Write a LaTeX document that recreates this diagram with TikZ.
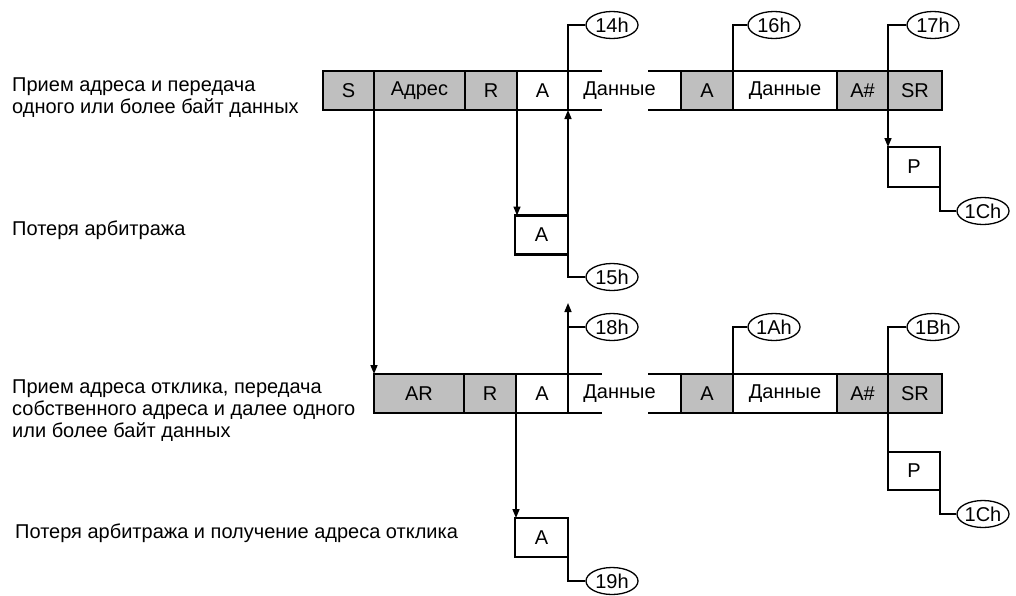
\documentclass[tikz,border=0pt]{standalone}
\usepackage{fontspec}
\setmainfont{Liberation Sans}
\usetikzlibrary{shapes.geometric, arrows.meta, positioning, calc}

\tikzset{
  cell/.style={draw, line width=2.8pt, minimum height=39pt, inner sep=0pt, outer sep=0pt},
  gcell/.style={cell, fill=black!25},
  wcell/.style={cell, fill=white},
  ocell/.style={minimum height=39pt, inner sep=0pt, outer sep=0pt},
  border/.style={line width=2.8pt},
  box/.style={draw, line width=2.5pt, minimum width=53pt, minimum height=39pt, inner sep=0pt, outer sep=0pt},
  tag/.style={draw, ellipse, line width=1.3pt, minimum width=52pt, minimum height=27pt, inner sep=0pt},
  lead/.style={line width=1.3pt},
  arr/.style={line width=1.5pt, -{Triangle[length=9pt,width=7pt]}},
  lbl/.style={anchor=base west, align=left, inner sep=0pt}
}

\begin{document}
\begin{tikzpicture}[x=1pt, y=-1pt, font=\fontsize{20}{22}\selectfont]
      \useasboundingbox (0,0) rectangle (1016,595);

      % labels on the left
      \node[lbl] (l1) at (12,113) {Прием адреса и передача\\одного или более байт данных};
      \node[lbl] (l2) at (12,235) {Потеря арбитража};
      \node[lbl] (l3) at (12,437) {Прием адреса отклика, передача\\собственного адреса и далее одного\\или более байт данных};
      \node[lbl] (l4) at (15,538) {Потеря арбитража и получение адреса отклика};

      % first frame
      \node[gcell, minimum width=51pt] (s) at (348.5,90.5) {S};
      \node[gcell, minimum width=91pt, right=0pt of s] (adr) {Адрес};
      \node[gcell, minimum width=52pt, right=0pt of adr] (r1) {R};
      \node[wcell, minimum width=51pt, right=0pt of r1] (a1) {A};
      \node[ocell, minimum width=113pt, right=0pt of a1] (d1) {Данные\hspace*{10pt}};
      \node[gcell, minimum width=52pt, right=0pt of d1] (a2) {A};
      \node[wcell, minimum width=104pt, right=0pt of a2] (d2) {Данные};
      \node[gcell, minimum width=51pt, right=0pt of d2] (as1) {A\#};
      \node[gcell, minimum width=54pt, right=0pt of as1] (sr1) {SR};
      \draw[border] (d1.north west) -- ++(34,0);
      \draw[border] (d1.south west) -- ++(34,0);
      \draw[border] (d1.north east) -- ++(-33,0);
      \draw[border] (d1.south east) -- ++(-33,0);

      % second frame
      \node[gcell, minimum width=90pt] (ar) at (419,393.5) {AR};
      \node[gcell, minimum width=52pt, right=0pt of ar] (r2) {R};
      \node[wcell, minimum width=52pt, right=0pt of r2] (ba1) {A};
      \node[ocell, minimum width=113pt, right=0pt of ba1] (bd1) {Данные\hspace*{10pt}};
      \node[gcell, minimum width=52pt, right=0pt of bd1] (ba2) {A};
      \node[wcell, minimum width=104pt, right=0pt of ba2] (bd2) {Данные};
      \node[gcell, minimum width=51pt, right=0pt of bd2] (as2) {A\#};
      \node[gcell, minimum width=54pt, right=0pt of as2] (sr2) {SR};
      \draw[border] (bd1.north west) -- ++(34,0);
      \draw[border] (bd1.south west) -- ++(34,0);
      \draw[border] (bd1.north east) -- ++(-33,0);
      \draw[border] (bd1.south east) -- ++(-33,0);

      % lost arbitration and stop boxes
      \node[box] (la1) at (541.5,235) {A};
      \node[box] (la2) at (541.5,537.5) {A};
      \node[box, minimum width=52pt, minimum height=40pt] (p1) at (914,167) {P};
      \node[box, minimum width=52pt, minimum height=38pt] (p2) at (914,471) {P};

      % status codes
      \node[tag] (t14) at (612,25) {14h};
      \node[tag] (t15) at (612,277) {15h};
      \node[tag] (t16) at (774,25) {16h};
      \node[tag] (t17) at (933,25) {17h};
      \node[tag] (t1c) at (983,211) {1Ch};
      \node[tag] (t18) at (612,327) {18h};
      \node[tag] (t1a) at (774,327) {1Ah};
      \node[tag] (t1b) at (933,327) {1Bh};
      \node[tag] (t1c2) at (983,514) {1Ch};
      \node[tag] (t19) at (612,581) {19h};
      \coordinate (top18) at (568,303);

      % arrows
      \draw[arr] (s.south east) -- (ar.north west);
      \draw[arr] (a1.south west) -- (a1.south west |- la1.north);
      \draw[arr] (la1.north east) -- (la1.north east |- a1.south);
      \draw[arr] (as1.south east) -- (as1.south east |- p1.north);
      \draw[arr] (ba1.north east) -- (top18);
      \draw[arr] (ba1.south west) -- (ba1.south west |- la2.north);
      \draw[lead] (as2.south east) -- (as2.south east |- p2.north);

      % leaders to codes
      \draw[lead] (a1.north east) |- (t14.west);
      \draw[lead] (la1.south east) |- (t15.west);
      \draw[lead] (a2.north east) |- (t16.west);
      \draw[lead] (as1.north east) |- (t17.west);
      \draw[lead] (p1.south east) |- (t1c.west);
      \draw[lead] (t18.west) -- (t18.west -| ba1.east);
      \draw[lead] (ba2.north east) |- (t1a.west);
      \draw[lead] (as2.north east) |- (t1b.west);
      \draw[lead] (p2.south east) |- (t1c2.west);
      \draw[lead] (la2.south east) |- (t19.west);
    \end{tikzpicture}
\end{document}
